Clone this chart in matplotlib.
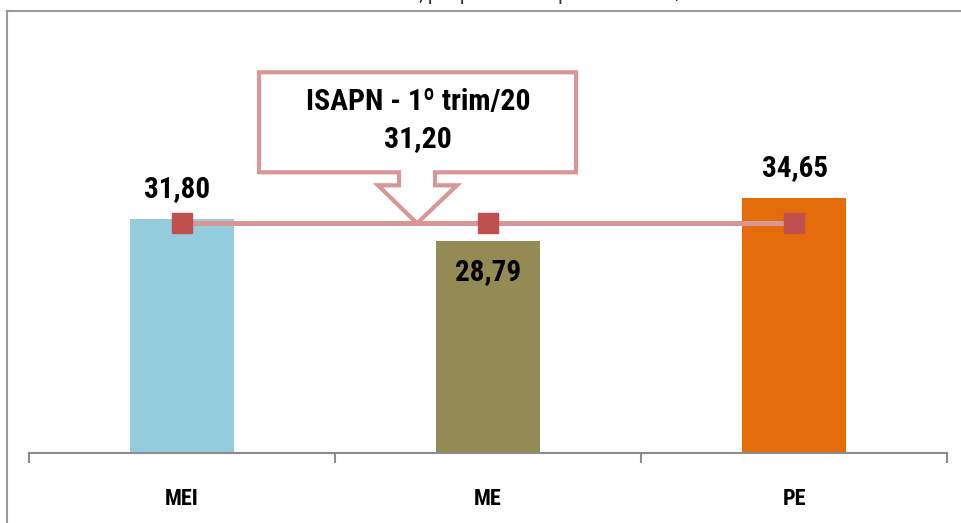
import matplotlib
matplotlib.use('Agg')
import matplotlib.pyplot as plt
import matplotlib.transforms as mtransforms
from matplotlib.patches import Polygon
from matplotlib.lines import Line2D

categories = ['MEI', 'ME', 'PE']
values = [31.80, 28.79, 34.65]
labels = ['31,80', '28,79', '34,65']
isapn = 31.20
isapn_text = 'ISAPN - 1º trim/20\n31,20'
title = 'Gráfico 1 - ISAPN, por porte de empresa - 1º trim/20'

bar_colors = ['#93CDDD', '#948A54', '#E46C0A']
fam = ['Roboto Condensed', 'DejaVu Sans']

fig = plt.figure(figsize=(9.61, 5.23), dpi=100)
ax = fig.add_axes([29 / 961, 70 / 523, 918 / 961, 413 / 523])
ax.set_xlim(-0.5, 2.5)
ax.set_ylim(0, 56.1)

x = list(range(len(categories)))
ax.bar(x, values, width=0.337, color=bar_colors, zorder=1)

# average line with square markers
ax.plot(x, [isapn] * len(x), color='#D99694', lw=3.6, marker='s', ms=14,
        mfc='#C0504D', mec='#C0504D', zorder=3)

# value labels
ax.annotate(labels[0], (x[0], values[0]), xytext=(-5, 16), textcoords='offset pixels',
            ha='center', va='bottom', fontsize=21, fontweight='bold', family=fam)
ax.annotate(labels[1], (x[1], values[1]), xytext=(0, -31), textcoords='offset pixels',
            ha='center', va='center', fontsize=21, fontweight='bold', family=fam)
ax.annotate(labels[2], (x[2], values[2]), xytext=(1, 16), textcoords='offset pixels',
            ha='center', va='bottom', fontsize=21, fontweight='bold', family=fam)

# callout box pointing to the line
tip_x = 0.768
shape = [(-158, 51), (-158, 151), (159, 151), (159, 51), (18, 51), (18, 38),
         (40, 38), (0, 0), (-39, 38), (-18, 38), (-18, 51)]
trans = mtransforms.ScaledTranslation(tip_x, isapn, ax.transData)
ax.add_patch(Polygon(shape, closed=True, transform=trans, facecolor='white',
                     edgecolor='#D99694', lw=3, zorder=4, clip_on=False))
ax.annotate(isapn_text, (tip_x, isapn), xytext=(1, 103), textcoords='offset pixels',
            ha='center', va='center', fontsize=21.5, fontweight='bold', family=fam,
            linespacing=1.4, zorder=5, annotation_clip=False)

for s in ['top', 'right', 'left']:
    ax.spines[s].set_visible(False)
ax.spines['bottom'].set_color('#8c8c8c')
ax.spines['bottom'].set_linewidth(1.5)
ax.set_yticks([])
ax.set_xticks(x)
ax.set_xticklabels(categories, fontsize=16, fontweight='bold', family=fam)
ax.tick_params(axis='x', which='major', length=0, pad=25)
ax.set_xticks([-0.5, 0.5, 1.5, 2.5], minor=True)
ax.tick_params(axis='x', which='minor', length=7, width=1.5, color='#8c8c8c')

# outer frame, cut off at the top
fig.add_artist(Line2D([7 / 961, 1], [1 - 11 / 523] * 2, color='#9a9a9a', lw=1.5))
fig.add_artist(Line2D([7 / 961] * 2, [0, 1 - 11 / 523], color='#9a9a9a', lw=1.5))
fig.text(0.51, 1 - 0.5 / 523, title, ha='center', va='baseline', fontsize=15,
         color='#333333', family=fam)

fig.savefig('out.png', dpi=100)
